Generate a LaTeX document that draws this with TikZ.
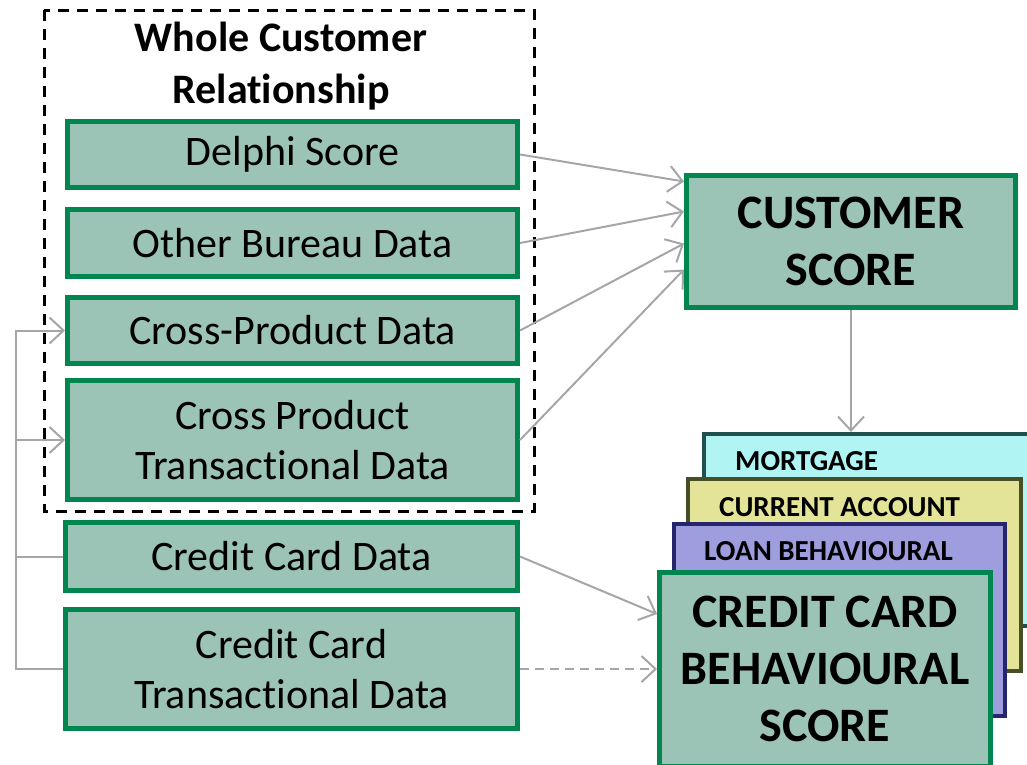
\documentclass[tikz,border=0pt]{standalone}
\usepackage{fontspec}
\setmainfont[Ligatures=NoCommon]{Carlito}
\usetikzlibrary{arrows.meta,positioning}
\definecolor{boxfill}{RGB}{155,196,182}
\definecolor{boxline}{RGB}{0,134,78}
\definecolor{linkgray}{RGB}{166,166,166}
\definecolor{mortfill}{RGB}{176,244,244}
\definecolor{mortline}{RGB}{32,80,80}
\definecolor{currfill}{RGB}{228,228,152}
\definecolor{currline}{RGB}{70,80,40}
\definecolor{loanfill}{RGB}{158,158,222}
\definecolor{loanline}{RGB}{38,38,110}
\begin{document}
\begin{tikzpicture}[x=1pt,y=-1pt,
	data/.style={draw=boxline,fill=boxfill,line width=5pt,minimum width=450pt,inner sep=0pt,align=center,font=\fontsize{42}{50}\selectfont},
	score/.style={data,font=\bfseries\fontsize{48}{57}\selectfont},
	card/.style={line width=4pt,minimum width=333pt,minimum height=192pt,inner sep=0pt},
	tag/.style={anchor=west,inner sep=0pt,font=\bfseries\fontsize{29}{35}\selectfont},
	link/.style={draw=linkgray,line width=2pt},
	>={Straight Barb[length=14pt,width=26pt]}]
		\useasboundingbox (0,0) rectangle (1027,764);
		% left column
		\node[data,minimum height=66pt] (delphi) at (292.5,154.5) {Delphi Score};
		\node[data,minimum height=67pt] (bureau) at (292.5,243) {Other Bureau Data};
		\node[data,minimum height=66pt] (xprod) at (292.5,330.5) {Cross-Product Data};
		\node[data,minimum height=119pt] (xtrans) at (292.5,440) {Cross Product\\Transactional Data};
		\node[data,minimum width=452pt,minimum height=68pt] (ccdata) at (291.5,556.5) {Credit Card Data};
		\node[data,minimum width=452pt,minimum height=119pt] (cctrans) at (291.5,669) {Credit Card\\Transactional Data};
		\node[font=\bfseries\fontsize{42}{52}\selectfont,align=center] (whole) at (281,66) {Whole Customer\\Relationship};
		\draw[line width=3pt,dash pattern=on 11pt off 8pt] (44,10) rectangle (534,511);
		% right column
		\node[score,minimum width=329pt,minimum height=132pt] (cust) at (851,241.5) {CUSTOMER\\SCORE};
		\node[card,draw=mortline,fill=mortfill,minimum width=339pt] (mort) at (873.5,530) {};
		\node[tag] (mortlbl) at (735,461) {MORTGAGE};
		\node[card,draw=currline,fill=currfill] (curr) at (854.5,575) {};
		\node[tag] (currlbl) at (719,507) {CURRENT ACCOUNT};
		\node[card,draw=loanline,fill=loanfill,minimum width=331pt] (loan) at (839.5,620) {};
		\node[tag] (loanlbl) at (704,551) {LOAN BEHAVIOURAL};
		\node[score,minimum width=331pt,minimum height=194pt] (ccb) at (825,669) {CREDIT CARD\\BEHAVIOURAL\\SCORE};
		% links
		\foreach \n/\d in {delphi/60,bureau/30,xprod/-2,xtrans/-28}
		\draw[link,->] (\n.east) -- ([yshift=\d pt]cust.west);
		\draw[link,->] (cust.south) -- (cust.south |- mort.north);
		\draw[link,->] (ccdata.east) -- ([yshift=55pt]ccb.west);
		\draw[link,->,dash pattern=on 9pt off 6pt] (cctrans.east) -- (cctrans.east -| ccb.west);
		\draw[link,->] (cctrans.west) -- ++(-47,0) coordinate (bus) |- (xprod.west);
		\draw[link,->] (bus |- xtrans.west) -- (xtrans.west);
		\draw[link] (ccdata.west) -- (ccdata.west -| bus);
		
	\end{tikzpicture}
\end{document}
